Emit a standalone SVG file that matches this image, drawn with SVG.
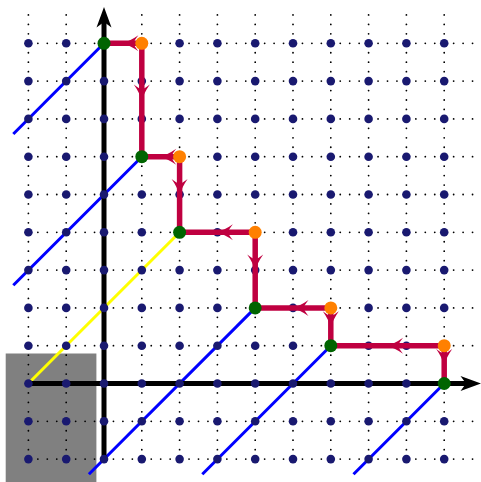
<svg xmlns="http://www.w3.org/2000/svg" width="481" height="482" viewBox="0 0 481 482">
<style>
.grid line{stroke:#000;stroke-width:1.8;stroke-dasharray:0 9.45;stroke-linecap:round;fill:none}
.pt{fill:#191970}
.diag{stroke:#0000ff;stroke-width:3;fill:none}
.yel{stroke:#ffff00;stroke-width:3;fill:none}
.axis{stroke:#000;stroke-width:5;fill:none}
.edge{stroke:#bf0040;stroke-width:5.5;fill:none;marker-mid:url(#ah)}
.green{fill:#006400}
.orange{fill:#ff8000}
</style>
<defs>
<marker id="ah" markerUnits="userSpaceOnUse" viewBox="-17 -9 19 18" refX="0" refY="0" markerWidth="19" markerHeight="18" orient="auto">
<path d="M1,0 Q-7,-2 -15.5,-8 Q-11.5,-3 -10.5,0 Q-11.5,3 -15.5,8 Q-7,2 1,0 Z" fill="#bf0040"/>
</marker>
<circle id="d" r="4.3" class="pt"/>
</defs>
<rect x="5.7" y="353.5" width="90.7" height="129" fill="#808080"/>
<g class="grid">
<line x1="28.4" y1="459.1" x2="28.4" y2="14.9"/>
<line x1="66.2" y1="459.1" x2="66.2" y2="14.9"/>
<line x1="104" y1="459.1" x2="104" y2="14.9"/>
<line x1="141.8" y1="459.1" x2="141.8" y2="14.9"/>
<line x1="179.6" y1="459.1" x2="179.6" y2="14.9"/>
<line x1="217.4" y1="459.1" x2="217.4" y2="14.9"/>
<line x1="255.2" y1="459.1" x2="255.2" y2="14.9"/>
<line x1="293" y1="459.1" x2="293" y2="14.9"/>
<line x1="330.8" y1="459.1" x2="330.8" y2="14.9"/>
<line x1="368.6" y1="459.1" x2="368.6" y2="14.9"/>
<line x1="406.4" y1="459.1" x2="406.4" y2="14.9"/>
<line x1="444.2" y1="459.1" x2="444.2" y2="14.9"/>
<line x1="28.4" y1="459.1" x2="472.6" y2="459.1"/>
<line x1="28.4" y1="421.3" x2="472.6" y2="421.3"/>
<line x1="28.4" y1="383.5" x2="472.6" y2="383.5"/>
<line x1="28.4" y1="345.7" x2="472.6" y2="345.7"/>
<line x1="28.4" y1="307.9" x2="472.6" y2="307.9"/>
<line x1="28.4" y1="270.1" x2="472.6" y2="270.1"/>
<line x1="28.4" y1="232.3" x2="472.6" y2="232.3"/>
<line x1="28.4" y1="194.5" x2="472.6" y2="194.5"/>
<line x1="28.4" y1="156.7" x2="472.6" y2="156.7"/>
<line x1="28.4" y1="118.9" x2="472.6" y2="118.9"/>
<line x1="28.4" y1="81.1" x2="472.6" y2="81.1"/>
<line x1="28.4" y1="43.3" x2="472.6" y2="43.3"/>
</g>
<g id="diagonals">
<line class="diag" x1="13.3" y1="134" x2="104" y2="43.3"/>
<line class="diag" x1="13.3" y1="285.2" x2="141.8" y2="156.7"/>
<line class="yel" x1="28.4" y1="383.5" x2="179.6" y2="232.3"/>
<line class="diag" x1="88.9" y1="474.2" x2="255.2" y2="307.9"/>
<line class="diag" x1="202.3" y1="474.2" x2="330.8" y2="345.7"/>
<line class="diag" x1="353.5" y1="474.2" x2="444.2" y2="383.5"/>
</g>
<g id="axes">
<line class="axis" x1="104" y1="459.1" x2="104" y2="20"/>
<path d="M104,7 L96.5,27.5 L104,22 L111.5,27.5 Z" fill="#000"/>
<line class="axis" x1="28.4" y1="383.5" x2="468" y2="383.5"/>
<path d="M481,383.5 L460.5,376 L466,383.5 L460.5,391 Z" fill="#000"/>
</g>
<g id="lattice">
<use href="#d" x="28.4" y="459.1"/><use href="#d" x="66.2" y="459.1"/><use href="#d" x="104" y="459.1"/><use href="#d" x="141.8" y="459.1"/><use href="#d" x="179.6" y="459.1"/><use href="#d" x="217.4" y="459.1"/><use href="#d" x="255.2" y="459.1"/><use href="#d" x="293" y="459.1"/><use href="#d" x="330.8" y="459.1"/><use href="#d" x="368.6" y="459.1"/><use href="#d" x="406.4" y="459.1"/><use href="#d" x="444.2" y="459.1"/>
<use href="#d" x="28.4" y="421.3"/><use href="#d" x="66.2" y="421.3"/><use href="#d" x="104" y="421.3"/><use href="#d" x="141.8" y="421.3"/><use href="#d" x="179.6" y="421.3"/><use href="#d" x="217.4" y="421.3"/><use href="#d" x="255.2" y="421.3"/><use href="#d" x="293" y="421.3"/><use href="#d" x="330.8" y="421.3"/><use href="#d" x="368.6" y="421.3"/><use href="#d" x="406.4" y="421.3"/><use href="#d" x="444.2" y="421.3"/>
<use href="#d" x="28.4" y="383.5"/><use href="#d" x="66.2" y="383.5"/><use href="#d" x="104" y="383.5"/><use href="#d" x="141.8" y="383.5"/><use href="#d" x="179.6" y="383.5"/><use href="#d" x="217.4" y="383.5"/><use href="#d" x="255.2" y="383.5"/><use href="#d" x="293" y="383.5"/><use href="#d" x="330.8" y="383.5"/><use href="#d" x="368.6" y="383.5"/><use href="#d" x="406.4" y="383.5"/><use href="#d" x="444.2" y="383.5"/>
<use href="#d" x="28.4" y="345.7"/><use href="#d" x="66.2" y="345.7"/><use href="#d" x="104" y="345.7"/><use href="#d" x="141.8" y="345.7"/><use href="#d" x="179.6" y="345.7"/><use href="#d" x="217.4" y="345.7"/><use href="#d" x="255.2" y="345.7"/><use href="#d" x="293" y="345.7"/><use href="#d" x="330.8" y="345.7"/><use href="#d" x="368.6" y="345.7"/><use href="#d" x="406.4" y="345.7"/><use href="#d" x="444.2" y="345.7"/>
<use href="#d" x="28.4" y="307.9"/><use href="#d" x="66.2" y="307.9"/><use href="#d" x="104" y="307.9"/><use href="#d" x="141.8" y="307.9"/><use href="#d" x="179.6" y="307.9"/><use href="#d" x="217.4" y="307.9"/><use href="#d" x="255.2" y="307.9"/><use href="#d" x="293" y="307.9"/><use href="#d" x="330.8" y="307.9"/><use href="#d" x="368.6" y="307.9"/><use href="#d" x="406.4" y="307.9"/><use href="#d" x="444.2" y="307.9"/>
<use href="#d" x="28.4" y="270.1"/><use href="#d" x="66.2" y="270.1"/><use href="#d" x="104" y="270.1"/><use href="#d" x="141.8" y="270.1"/><use href="#d" x="179.6" y="270.1"/><use href="#d" x="217.4" y="270.1"/><use href="#d" x="255.2" y="270.1"/><use href="#d" x="293" y="270.1"/><use href="#d" x="330.8" y="270.1"/><use href="#d" x="368.6" y="270.1"/><use href="#d" x="406.4" y="270.1"/><use href="#d" x="444.2" y="270.1"/>
<use href="#d" x="28.4" y="232.3"/><use href="#d" x="66.2" y="232.3"/><use href="#d" x="104" y="232.3"/><use href="#d" x="141.8" y="232.3"/><use href="#d" x="179.6" y="232.3"/><use href="#d" x="217.4" y="232.3"/><use href="#d" x="255.2" y="232.3"/><use href="#d" x="293" y="232.3"/><use href="#d" x="330.8" y="232.3"/><use href="#d" x="368.6" y="232.3"/><use href="#d" x="406.4" y="232.3"/><use href="#d" x="444.2" y="232.3"/>
<use href="#d" x="28.4" y="194.5"/><use href="#d" x="66.2" y="194.5"/><use href="#d" x="104" y="194.5"/><use href="#d" x="141.8" y="194.5"/><use href="#d" x="179.6" y="194.5"/><use href="#d" x="217.4" y="194.5"/><use href="#d" x="255.2" y="194.5"/><use href="#d" x="293" y="194.5"/><use href="#d" x="330.8" y="194.5"/><use href="#d" x="368.6" y="194.5"/><use href="#d" x="406.4" y="194.5"/><use href="#d" x="444.2" y="194.5"/>
<use href="#d" x="28.4" y="156.7"/><use href="#d" x="66.2" y="156.7"/><use href="#d" x="104" y="156.7"/><use href="#d" x="141.8" y="156.7"/><use href="#d" x="179.6" y="156.7"/><use href="#d" x="217.4" y="156.7"/><use href="#d" x="255.2" y="156.7"/><use href="#d" x="293" y="156.7"/><use href="#d" x="330.8" y="156.7"/><use href="#d" x="368.6" y="156.7"/><use href="#d" x="406.4" y="156.7"/><use href="#d" x="444.2" y="156.7"/>
<use href="#d" x="28.4" y="118.9"/><use href="#d" x="66.2" y="118.9"/><use href="#d" x="104" y="118.9"/><use href="#d" x="141.8" y="118.9"/><use href="#d" x="179.6" y="118.9"/><use href="#d" x="217.4" y="118.9"/><use href="#d" x="255.2" y="118.9"/><use href="#d" x="293" y="118.9"/><use href="#d" x="330.8" y="118.9"/><use href="#d" x="368.6" y="118.9"/><use href="#d" x="406.4" y="118.9"/><use href="#d" x="444.2" y="118.9"/>
<use href="#d" x="28.4" y="81.1"/><use href="#d" x="66.2" y="81.1"/><use href="#d" x="104" y="81.1"/><use href="#d" x="141.8" y="81.1"/><use href="#d" x="179.6" y="81.1"/><use href="#d" x="217.4" y="81.1"/><use href="#d" x="255.2" y="81.1"/><use href="#d" x="293" y="81.1"/><use href="#d" x="330.8" y="81.1"/><use href="#d" x="368.6" y="81.1"/><use href="#d" x="406.4" y="81.1"/><use href="#d" x="444.2" y="81.1"/>
<use href="#d" x="28.4" y="43.3"/><use href="#d" x="66.2" y="43.3"/><use href="#d" x="104" y="43.3"/><use href="#d" x="141.8" y="43.3"/><use href="#d" x="179.6" y="43.3"/><use href="#d" x="217.4" y="43.3"/><use href="#d" x="255.2" y="43.3"/><use href="#d" x="293" y="43.3"/><use href="#d" x="330.8" y="43.3"/><use href="#d" x="368.6" y="43.3"/><use href="#d" x="406.4" y="43.3"/><use href="#d" x="444.2" y="43.3"/>
</g>
<g id="connectors">
<path class="edge" d="M141.8,43.3 L122.9,43.3 L104,43.3"/>
<path class="edge" d="M141.8,43.3 L141.8,100 L141.8,156.7"/>
<path class="edge" d="M179.6,156.7 L160.7,156.7 L141.8,156.7"/>
<path class="edge" d="M179.6,156.7 L179.6,194.5 L179.6,232.3"/>
<path class="edge" d="M255.2,232.3 L217.4,232.3 L179.6,232.3"/>
<path class="edge" d="M255.2,232.3 L255.2,270.1 L255.2,307.9"/>
<path class="edge" d="M330.8,307.9 L293,307.9 L255.2,307.9"/>
<path class="edge" d="M330.8,307.9 L330.8,326.8 L330.8,345.7"/>
<path class="edge" d="M444.2,345.7 L387.5,345.7 L330.8,345.7"/>
<path class="edge" d="M444.2,345.7 L444.2,364.6 L444.2,383.5"/>
</g>
<g id="g1"><circle class="green" cx="104" cy="43.3" r="6.5"/></g>
<g id="g2"><circle class="green" cx="141.8" cy="156.7" r="6.5"/></g>
<g id="g3"><circle class="green" cx="179.6" cy="232.3" r="6.5"/></g>
<g id="g4"><circle class="green" cx="255.2" cy="307.9" r="6.5"/></g>
<g id="g5"><circle class="green" cx="330.8" cy="345.7" r="6.5"/></g>
<g id="g6"><circle class="green" cx="444.2" cy="383.5" r="6.5"/></g>
<g id="o1"><circle class="orange" cx="141.8" cy="43.3" r="6.5"/></g>
<g id="o2"><circle class="orange" cx="179.6" cy="156.7" r="6.5"/></g>
<g id="o3"><circle class="orange" cx="255.2" cy="232.3" r="6.5"/></g>
<g id="o4"><circle class="orange" cx="330.8" cy="307.9" r="6.5"/></g>
<g id="o5"><circle class="orange" cx="444.2" cy="345.7" r="6.5"/></g>
</svg>
